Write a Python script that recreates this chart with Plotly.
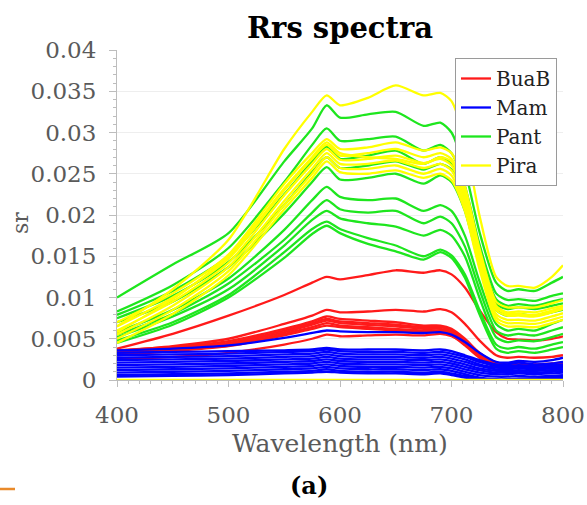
import plotly.graph_objects as go

# Wavelength sample points (nm)
wavelength = [400, 450, 500, 550, 575, 588, 600, 625, 650, 675, 690, 700, 712, 725, 740, 750, 760, 775, 790, 800]

# BuaB (red)
buab = [
    [0.0038, 0.0056, 0.0078, 0.0103, 0.0118, 0.0125, 0.0122, 0.0127, 0.0133, 0.0130, 0.0133, 0.0128, 0.0112, 0.0085, 0.0058, 0.0050, 0.0049, 0.0048, 0.0050, 0.0053],
    [0.0035, 0.0041, 0.0050, 0.0068, 0.0078, 0.0085, 0.0082, 0.0083, 0.0085, 0.0083, 0.0086, 0.0082, 0.0068, 0.0048, 0.0030, 0.0027, 0.0028, 0.0027, 0.0028, 0.0030],
    [0.0036, 0.0040, 0.0047, 0.0062, 0.0071, 0.0077, 0.0074, 0.0072, 0.0070, 0.0066, 0.0066, 0.0062, 0.0050, 0.0033, 0.0020, 0.0018, 0.0019, 0.0018, 0.0019, 0.0020],
    [0.0034, 0.0039, 0.0045, 0.0060, 0.0069, 0.0074, 0.0071, 0.0069, 0.0067, 0.0064, 0.0064, 0.0060, 0.0048, 0.0031, 0.0019, 0.0017, 0.0018, 0.0017, 0.0018, 0.0019],
    [0.0033, 0.0037, 0.0044, 0.0058, 0.0067, 0.0072, 0.0069, 0.0067, 0.0065, 0.0062, 0.0062, 0.0058, 0.0046, 0.0030, 0.0018, 0.0016, 0.0017, 0.0016, 0.0017, 0.0018],
    [0.0031, 0.0036, 0.0042, 0.0056, 0.0064, 0.0069, 0.0066, 0.0064, 0.0062, 0.0060, 0.0060, 0.0056, 0.0044, 0.0028, 0.0017, 0.0015, 0.0016, 0.0015, 0.0016, 0.0017],
    [0.0030, 0.0035, 0.0041, 0.0054, 0.0062, 0.0066, 0.0064, 0.0062, 0.0060, 0.0058, 0.0058, 0.0054, 0.0042, 0.0027, 0.0016, 0.0014, 0.0015, 0.0014, 0.0015, 0.0016],
    [0.0025, 0.0028, 0.0033, 0.0043, 0.0050, 0.0055, 0.0053, 0.0054, 0.0055, 0.0054, 0.0056, 0.0053, 0.0044, 0.0032, 0.0021, 0.0019, 0.0020, 0.0019, 0.0020, 0.0021],
]

# Mam (blue)
mam = [
    [0.0036, 0.0038, 0.0042, 0.0051, 0.0057, 0.0060, 0.0059, 0.0058, 0.0058, 0.0057, 0.0058, 0.0055, 0.0046, 0.0033, 0.0022, 0.0021, 0.0023, 0.0022, 0.0024, 0.0027],
    [0.0033, 0.0034, 0.0035, 0.0036, 0.0037, 0.0039, 0.0037, 0.0037, 0.0037, 0.0036, 0.0037, 0.0035, 0.0030, 0.0024, 0.0019, 0.0019, 0.0021, 0.0019, 0.0020, 0.0022],
    [0.0030, 0.0031, 0.0032, 0.0034, 0.0035, 0.0037, 0.0035, 0.0034, 0.0034, 0.0033, 0.0034, 0.0032, 0.0028, 0.0022, 0.0017, 0.0017, 0.0018, 0.0017, 0.0018, 0.0019],
    [0.0027, 0.0028, 0.0029, 0.0031, 0.0032, 0.0034, 0.0032, 0.0031, 0.0031, 0.0030, 0.0031, 0.0029, 0.0025, 0.0019, 0.0015, 0.0015, 0.0016, 0.0015, 0.0016, 0.0017],
    [0.0024, 0.0025, 0.0026, 0.0028, 0.0029, 0.0031, 0.0029, 0.0028, 0.0028, 0.0027, 0.0028, 0.0026, 0.0022, 0.0017, 0.0013, 0.0013, 0.0014, 0.0013, 0.0014, 0.0015],
    [0.0021, 0.0022, 0.0023, 0.0025, 0.0026, 0.0028, 0.0026, 0.0025, 0.0025, 0.0024, 0.0025, 0.0023, 0.0019, 0.0014, 0.0011, 0.0011, 0.0012, 0.0011, 0.0012, 0.0013],
    [0.0018, 0.0019, 0.0020, 0.0022, 0.0023, 0.0025, 0.0023, 0.0022, 0.0022, 0.0021, 0.0022, 0.0020, 0.0016, 0.0012, 0.0009, 0.0009, 0.0010, 0.0009, 0.0010, 0.0011],
    [0.0015, 0.0016, 0.0017, 0.0019, 0.0020, 0.0022, 0.0020, 0.0019, 0.0019, 0.0018, 0.0019, 0.0017, 0.0013, 0.0009, 0.0007, 0.0007, 0.0008, 0.0007, 0.0008, 0.0009],
    [0.0012, 0.0013, 0.0014, 0.0016, 0.0017, 0.0019, 0.0017, 0.0016, 0.0016, 0.0015, 0.0016, 0.0014, 0.0010, 0.0006, 0.0004, 0.0004, 0.0005, 0.0004, 0.0005, 0.0006],
    [0.0009, 0.0010, 0.0011, 0.0013, 0.0014, 0.0016, 0.0014, 0.0013, 0.0013, 0.0012, 0.0013, 0.0011, 0.0007, 0.0003, 0.0001, 0.0001, 0.0002, 0.0002, 0.0003, 0.0004],
    [0.0006, 0.0007, 0.0008, 0.0010, 0.0011, 0.0013, 0.0011, 0.0010, 0.0010, 0.0009, 0.0010, 0.0008, 0.0005, 0.0002, 0.0000, 0.0000, 0.0001, 0.0001, 0.0002, 0.0003],
    [0.0004, 0.0005, 0.0006, 0.0008, 0.0009, 0.0010, 0.0009, 0.0008, 0.0008, 0.0007, 0.0008, 0.0006, 0.0003, 0.0001, 0.0000, 0.0000, 0.0000, 0.0000, 0.0001, 0.0002],
]

# Pant (green)
pant = [
    [0.0100, 0.0140, 0.0178, 0.0265, 0.0305, 0.0333, 0.0318, 0.0322, 0.0325, 0.0308, 0.0312, 0.0300, 0.0255, 0.0180, 0.0118, 0.0108, 0.0110, 0.0108, 0.0118, 0.0125],
    [0.0083, 0.0115, 0.0160, 0.0240, 0.0285, 0.0305, 0.0290, 0.0292, 0.0295, 0.0278, 0.0285, 0.0275, 0.0235, 0.0165, 0.0105, 0.0097, 0.0098, 0.0096, 0.0102, 0.0105],
    [0.0079, 0.0108, 0.0150, 0.0225, 0.0265, 0.0283, 0.0268, 0.0272, 0.0278, 0.0262, 0.0270, 0.0262, 0.0225, 0.0155, 0.0098, 0.0090, 0.0092, 0.0090, 0.0095, 0.0098],
    [0.0075, 0.0102, 0.0143, 0.0212, 0.0252, 0.0270, 0.0257, 0.0260, 0.0265, 0.0255, 0.0262, 0.0255, 0.0218, 0.0150, 0.0092, 0.0086, 0.0088, 0.0086, 0.0090, 0.0093],
    [0.0070, 0.0095, 0.0137, 0.0202, 0.0240, 0.0258, 0.0243, 0.0245, 0.0250, 0.0238, 0.0248, 0.0240, 0.0205, 0.0140, 0.0085, 0.0078, 0.0080, 0.0078, 0.0082, 0.0085],
    [0.0058, 0.0085, 0.0123, 0.0182, 0.0218, 0.0234, 0.0222, 0.0218, 0.0220, 0.0205, 0.0212, 0.0205, 0.0175, 0.0120, 0.0068, 0.0060, 0.0062, 0.0060, 0.0068, 0.0073],
    [0.0055, 0.0080, 0.0117, 0.0170, 0.0203, 0.0218, 0.0207, 0.0203, 0.0205, 0.0190, 0.0198, 0.0190, 0.0162, 0.0110, 0.0060, 0.0054, 0.0056, 0.0054, 0.0060, 0.0064],
    [0.0052, 0.0077, 0.0110, 0.0163, 0.0194, 0.0205, 0.0196, 0.0190, 0.0186, 0.0175, 0.0182, 0.0175, 0.0150, 0.0100, 0.0052, 0.0046, 0.0048, 0.0047, 0.0052, 0.0056],
    [0.0048, 0.0070, 0.0103, 0.0155, 0.0183, 0.0192, 0.0183, 0.0172, 0.0163, 0.0150, 0.0158, 0.0151, 0.0128, 0.0085, 0.0043, 0.0038, 0.0040, 0.0038, 0.0043, 0.0046],
    [0.0045, 0.0067, 0.0100, 0.0148, 0.0177, 0.0187, 0.0178, 0.0165, 0.0156, 0.0146, 0.0155, 0.0148, 0.0124, 0.0080, 0.0038, 0.0033, 0.0035, 0.0033, 0.0037, 0.0040],
]

# Pira (yellow)
pira = [
    [0.0065, 0.0110, 0.0170, 0.0280, 0.0325, 0.0345, 0.0333, 0.0342, 0.0357, 0.0345, 0.0348, 0.0338, 0.0290, 0.0200, 0.0125, 0.0114, 0.0114, 0.0112, 0.0125, 0.0139],
    [0.0070, 0.0105, 0.0152, 0.0238, 0.0275, 0.0292, 0.0280, 0.0282, 0.0288, 0.0278, 0.0282, 0.0275, 0.0235, 0.0160, 0.0095, 0.0088, 0.0088, 0.0088, 0.0093, 0.0097],
    [0.0065, 0.0100, 0.0147, 0.0230, 0.0268, 0.0285, 0.0272, 0.0275, 0.0280, 0.0270, 0.0275, 0.0268, 0.0228, 0.0155, 0.0090, 0.0082, 0.0083, 0.0082, 0.0087, 0.0090],
    [0.0060, 0.0095, 0.0142, 0.0224, 0.0262, 0.0280, 0.0267, 0.0268, 0.0272, 0.0263, 0.0268, 0.0260, 0.0222, 0.0150, 0.0085, 0.0078, 0.0078, 0.0077, 0.0082, 0.0086],
    [0.0055, 0.0090, 0.0137, 0.0217, 0.0256, 0.0275, 0.0262, 0.0262, 0.0266, 0.0257, 0.0262, 0.0254, 0.0216, 0.0145, 0.0080, 0.0073, 0.0073, 0.0072, 0.0077, 0.0081],
    [0.0050, 0.0085, 0.0132, 0.0212, 0.0250, 0.0270, 0.0257, 0.0256, 0.0260, 0.0250, 0.0256, 0.0248, 0.0210, 0.0140, 0.0076, 0.0069, 0.0069, 0.0068, 0.0073, 0.0077],
    [0.0045, 0.0080, 0.0127, 0.0207, 0.0245, 0.0265, 0.0252, 0.0250, 0.0254, 0.0245, 0.0250, 0.0242, 0.0205, 0.0135, 0.0072, 0.0065, 0.0065, 0.0064, 0.0069, 0.0073],
    [0.0058, 0.0098, 0.0150, 0.0232, 0.0270, 0.0288, 0.0275, 0.0270, 0.0268, 0.0262, 0.0270, 0.0265, 0.0226, 0.0152, 0.0088, 0.0080, 0.0080, 0.0079, 0.0084, 0.0088],
    [0.0000, 0.0000, 0.0000, 0.0000, 0.0000, 0.0000, 0.0000, 0.0000, 0.0000, 0.0000, 0.0000, 0.0000, 0.0000, 0.0000, 0.0000, 0.0000, 0.0000, 0.0000, 0.0000, 0.0000],
]

groups = [("BuaB", buab, "#ff1a1a"), ("Mam", mam, "#0000ff"), ("Pant", pant, "#1ee61e"), ("Pira", pira, "#ffff00")]

x_ticks = [400, 500, 600, 700, 800]
y_ticks = [0, 0.005, 0.01, 0.015, 0.02, 0.025, 0.03, 0.035, 0.04]
y_tick_text = ["0", "0.005", "0.01", "0.015", "0.02", "0.025", "0.03", "0.035", "0.04"]

# plot-area geometry in pixels
W_FIG, H_FIG = 587, 505
L, R, T, B = 117, 24, 50, 125
PW, PH = W_FIG - L - R, H_FIG - T - B


def px_x(px):
    return (px - L) / PW


def px_y(py):
    return 1 - (py - T) / PH


fig = go.Figure()
for name, series, color in groups:
    for i, vals in enumerate(series):
        fig.add_trace(go.Scatter(
            x=wavelength, y=vals, mode="lines", name=name, legendgroup=name,
            showlegend=(i == 0),
            line=dict(color=color, width=2.3, shape="spline", smoothing=0.7),
            hoverinfo="skip",
        ))

serif = "DejaVu Serif"
gray = "#5a5a5a"


def ann(text, px, py, size, color, angle=0):
    return dict(text=text, x=px_x(px), y=px_y(py), xref="paper", yref="paper",
                xanchor="center", yanchor="middle", showarrow=False, textangle=angle,
                font=dict(family=serif, size=size, color=color))


fig.update_layout(
    width=W_FIG, height=H_FIG,
    margin=dict(l=L, r=R, t=T, b=B, autoexpand=False),
    paper_bgcolor="white", plot_bgcolor="white",
    showlegend=True,
    legend=dict(
        x=px_x(557), xanchor="right", y=px_y(58), yanchor="top",
        bgcolor="white", bordercolor="#9a9a9a", borderwidth=1,
        font=dict(family=serif, size=20, color="#222222"),
        itemwidth=30, tracegroupgap=0,
    ),
    annotations=[
        ann("<b>Rrs spectra</b>", 340, 28, 29, "black"),
        ann("Wavelength (nm)", 340, 443, 25, gray),
        ann("<b>(a)</b>", 309, 485, 24, "black"),
        ann("sr", 20, 223, 22, gray, -90),
    ],
)

fig.update_xaxes(
    range=[400, 800], tickvals=x_ticks, showgrid=False, zeroline=False, automargin=False,
    showline=True, linecolor="#bdbdbd", linewidth=1,
    ticks="outside", ticklen=6, tickcolor="#bdbdbd",
    minor=dict(dtick=10, ticks="outside", ticklen=3, tickcolor="#bdbdbd"),
    tickfont=dict(family=serif, size=23, color=gray), ticklabelstandoff=8,
)
fig.update_yaxes(
    range=[0, 0.04], tickvals=y_ticks, ticktext=y_tick_text, automargin=False,
    showgrid=True, gridcolor="#eeeeee", zeroline=False,
    showline=True, linecolor="#bdbdbd", linewidth=1,
    ticks="outside", ticklen=7, tickcolor="#bdbdbd",
    minor=dict(dtick=0.001, ticks="outside", ticklen=3, tickcolor="#bdbdbd", showgrid=False),
    tickfont=dict(family=serif, size=23, color=gray), ticklabelstandoff=8,
)

fig.add_shape(type="line", xref="paper", yref="paper",
              x0=px_x(0), x1=px_x(15), y0=px_y(489), y1=px_y(489),
              line=dict(color="#e98a2a", width=2.5))

fig.write_html("out.html", config={"displayModeBar": False},
               post_script="document.body.style.margin='0px';document.body.style.overflow='hidden';")
